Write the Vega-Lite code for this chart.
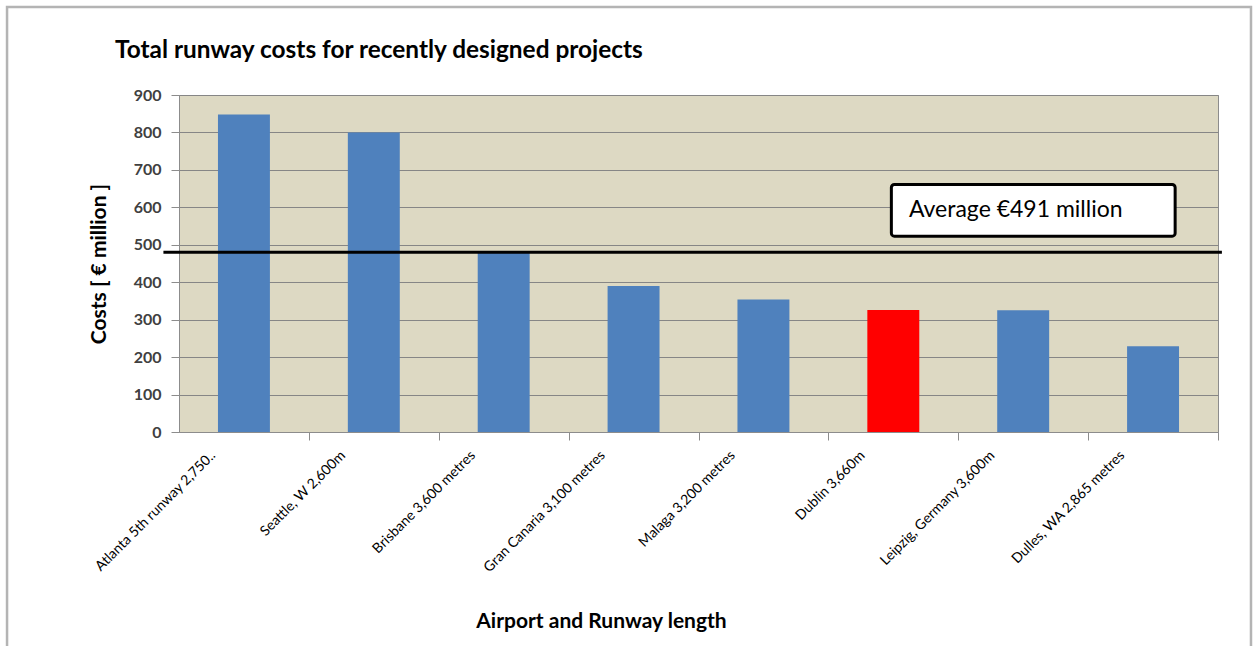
{
  "$schema": "https://vega.github.io/schema/vega-lite/v6.json",
  "width": 1039,
  "height": 337,
  "autosize": {"type": "none"},
  "padding": {"left": 179, "top": 95, "right": 36, "bottom": 214},
  "background": "white",
  "title": {
    "text": "Total runway costs for recently designed  projects",
    "anchor": "start",
    "frame": "group",
    "dx": -64,
    "offset": -58,
    "font": "Lato",
    "fontSize": 24.4,
    "fontWeight": "bold",
    "color": "#000000"
  },
  "config": {
    "view": {"stroke": "#8c8c8c", "fill": "#ddd9c3"},
    "axisY": {
      "titleFont": "Lato",
      "titleFontSize": 21,
      "titleFontWeight": "bold",
      "titleColor": "#000000",
      "titlePadding": 24,
      "domainColor": "#8c8c8c",
      "tickColor": "#8c8c8c",
      "gridColor": "#868686",
      "tickSize": 8,
      "labelFont": "Lato",
      "labelFontSize": 16,
      "labelFontWeight": "bold",
      "labelColor": "#404040",
      "labelPadding": 10
    }
  },
  "resolve": {"scale": {"x": "independent"}},
  "layer": [
    {
      "data": {
        "values": [
          {"airport": "Atlanta 5th runway 2,750..", "cost": 848, "group": "other"},
          {"airport": "Seattle, W 2,600m", "cost": 800, "group": "other"},
          {"airport": "Brisbane 3,600 metres", "cost": 480, "group": "other"},
          {"airport": "Gran Canaria 3,100 metres", "cost": 390, "group": "other"},
          {"airport": "Malaga 3,200 metres", "cost": 354, "group": "other"},
          {"airport": "Dublin  3,660m", "cost": 326, "group": "Dublin"},
          {"airport": "Leipzig, Germany 3,600m", "cost": 325, "group": "other"},
          {"airport": "Dulles, WA 2,865 metres", "cost": 229, "group": "other"}
        ]
      },
      "mark": {"type": "bar"},
      "encoding": {
        "x": {
          "field": "airport",
          "type": "nominal",
          "sort": null,
          "scale": {"paddingInner": 0.6, "paddingOuter": 0.3},
          "axis": {
            "title": "Airport and Runway length",
            "titleFont": "Lato",
            "titleFontSize": 21,
            "titleFontWeight": "bold",
            "titleColor": "#000000",
            "titleX": 422,
            "titleY": 178,
            "domainColor": "#8c8c8c",
            "tickColor": "#8c8c8c",
            "tickOffset": 65,
            "tickSize": 8,
            "labelAngle": -45,
            "labelOffset": -101,
            "labelFont": "Lato",
            "labelFontSize": 14,
            "labelColor": "#000000",
            "labelPadding": 8,
            "grid": false
          }
        },
        "y": {
          "field": "cost",
          "type": "quantitative",
          "scale": {"domain": [0, 900]},
          "axis": {
            "values": [0, 100, 200, 300, 400, 500, 600, 700, 800, 900],
            "title": "Costs [ € million ]"
          }
        },
        "color": {
          "field": "group",
          "type": "nominal",
          "scale": {"domain": ["other", "Dublin"], "range": ["#4f81bd", "#ff0000"]},
          "legend": null
        }
      }
    },
    {
      "data": {"values": [{}]},
      "layer": [
        {
          "mark": {"type": "rect", "fill": null, "fillOpacity": 0, "stroke": "#b4b4b4", "strokeWidth": 2.5},
          "encoding": {
            "x": {"datum": -1.324, "type": "quantitative", "scale": {"domain": [0, 8]}, "axis": null},
            "x2": {"datum": 8.254},
            "y": {
              "datum": 1135,
              "type": "quantitative",
              "axis": {
                "values": [0, 100, 200, 300, 400, 500, 600, 700, 800, 900],
                "title": "Costs [ € million ]"
              }
            },
            "y2": {"datum": -620}
          }
        },
        {
          "mark": {"type": "rule", "color": "#000000", "strokeWidth": 3},
          "encoding": {
            "x": {"datum": -0.12, "type": "quantitative", "axis": null},
            "x2": {"datum": 8.03},
            "y": {
              "datum": 480,
              "type": "quantitative",
              "axis": {
                "values": [0, 100, 200, 300, 400, 500, 600, 700, 800, 900],
                "title": "Costs [ € million ]"
              }
            }
          }
        },
        {
          "mark": {"type": "rect", "fill": "#ffffff", "stroke": "#000000", "strokeWidth": 3, "cornerRadius": 3},
          "encoding": {
            "x": {"datum": 5.485, "type": "quantitative", "axis": null},
            "x2": {"datum": 7.67},
            "y": {
              "datum": 661,
              "type": "quantitative",
              "axis": {
                "values": [0, 100, 200, 300, 400, 500, 600, 700, 800, 900],
                "title": "Costs [ € million ]"
              }
            },
            "y2": {"datum": 523}
          }
        },
        {
          "mark": {"type": "text", "align": "left", "baseline": "middle", "font": "Lato", "fontSize": 23, "color": "#000000"},
          "encoding": {
            "x": {"datum": 5.62, "type": "quantitative", "axis": null},
            "y": {
              "datum": 592,
              "type": "quantitative",
              "axis": {
                "values": [0, 100, 200, 300, 400, 500, 600, 700, 800, 900],
                "title": "Costs [ € million ]"
              }
            },
            "text": {"value": "Average €491 million"}
          }
        }
      ]
    }
  ]
}
